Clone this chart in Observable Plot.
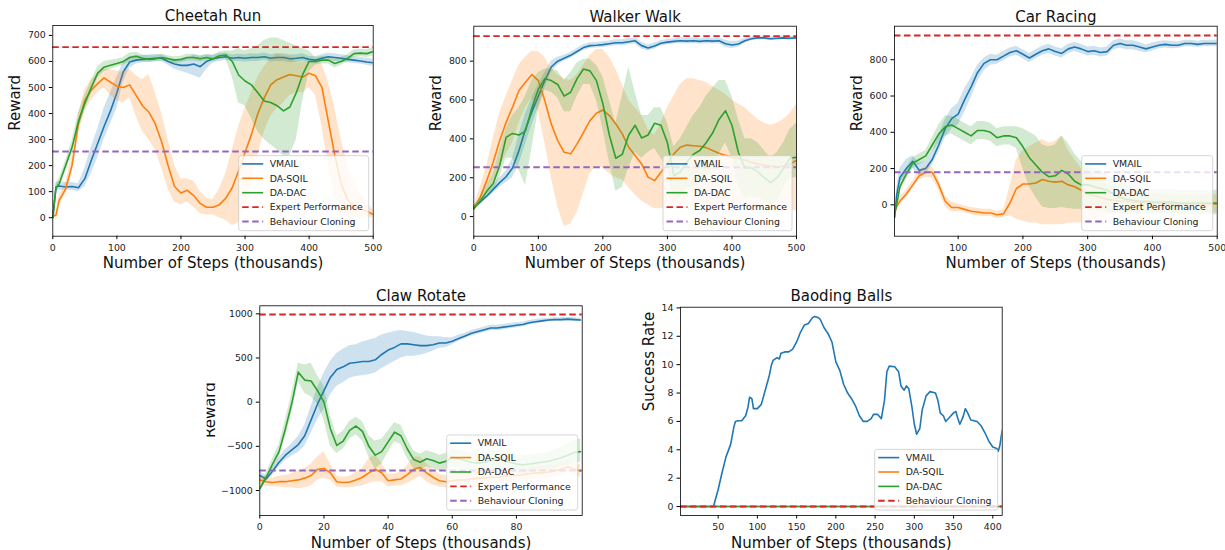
<!DOCTYPE html>
<html><head><meta charset="utf-8">
<script src="https://cdn.jsdelivr.net/npm/d3@7"></script>
<script src="https://cdn.jsdelivr.net/npm/@observablehq/plot@0.6"></script>
<style>
body{margin:0;background:#fff;}
#wrap{position:relative;width:1225px;height:550px;overflow:hidden;background:#fff;}
#wrap svg{position:absolute;max-width:none;}
</style></head><body><div id="wrap"></div>
<script>
// ---------------- DATA ----------------
const legendLabels = ["VMAIL","DA-SQIL","DA-DAC","Expert Performance","Behaviour Cloning"];
const xLabel = "Number of Steps (thousands)";

// Cheetah Run
const cheetahX = [0,5,10,20,30,40,50,60,70,80,90,100,110,120,130,140,150,160,170,180,190,200,210,220,230,240,250,260,270,280,290,300,310,320,330,340,350,360,370,380,390,400,410,420,430,440,450,460,470,480,490,500];
const cheetahVmail = [0,118,122,118,120,115,150,220,285,350,410,480,560,598,605,608,610,612,612,600,590,585,585,590,580,600,610,615,618,612,615,612,615,615,618,612,615,615,610,612,615,608,605,612,618,615,612,608,605,602,598,595];
const cheetahVmailBand = [[-5,5],[100,135],[105,140],[105,135],[105,135],[100,130],[120,190],[170,270],[230,340],[300,420],[360,480],[420,540],[520,595],[575,618],[590,622],[595,622],[598,625],[600,628],[600,626],[585,615],[570,608],[562,605],[555,612],[545,625],[535,620],[570,625],[595,625],[600,630],[605,632],[600,625],[600,628],[598,626],[600,630],[600,628],[605,632],[598,626],[600,630],[600,630],[595,625],[598,626],[600,630],[595,620],[590,618],[598,626],[605,632],[600,630],[598,626],[595,622],[592,618],[590,615],[585,612],[582,608]];
const cheetahSqil = [5,10,67,110,200,360,450,490,515,537,520,505,500,510,470,430,405,360,290,200,120,95,105,85,55,40,40,50,75,115,180,250,320,400,460,510,530,540,550,545,540,555,545,500,370,240,130,70,40,35,25,12];
const cheetahSqilBand = [[0,10],[0,20],[50,85],[90,135],[170,240],[320,400],[410,490],[450,530],[480,550],[500,570],[470,570],[450,560],[440,560],[460,570],[390,545],[330,530],[300,550],[260,480],[190,400],[110,300],[60,200],[50,150],[60,150],[40,140],[15,100],[10,75],[10,70],[0,110],[-10,170],[-30,260],[-20,350],[40,420],[130,480],[240,540],[330,580],[390,610],[420,630],[440,620],[470,620],[480,600],[480,595],[500,600],[470,600],[350,590],[200,520],[80,420],[20,300],[0,200],[-5,130],[0,90],[0,60],[0,30]];
const cheetahDac = [0,115,130,200,270,370,440,500,555,578,585,592,600,615,620,612,608,610,615,610,605,608,615,615,610,615,610,622,625,600,548,525,510,480,448,442,430,410,425,480,550,600,600,605,605,592,600,612,630,632,630,638];
const cheetahDacBand = [[-5,5],[100,130],[115,150],[180,220],[245,295],[340,400],[410,470],[475,525],[535,580],[560,600],[570,605],[578,608],[585,615],[600,632],[605,635],[598,626],[595,622],[598,622],[602,628],[598,622],[592,618],[595,620],[602,628],[602,628],[598,622],[602,628],[598,622],[608,636],[610,640],[540,640],[440,650],[430,640],[380,650],[330,660],[300,680],[280,690],[260,690],[235,680],[240,670],[300,660],[450,650],[560,640],[585,615],[590,620],[590,620],[575,608],[585,615],[598,626],[615,645],[618,646],[615,645],[622,654]];
const cheetahExpert = 655, cheetahBC = 254;
const cheetahXTicks = [0,100,200,300,400,500];
const cheetahYTicks = [0,100,200,300,400,500,600,700];

// Walker Walk
const walkerX = [0,10,20,30,40,50,60,70,80,90,100,110,120,130,140,150,160,170,180,190,200,210,220,230,240,250,260,270,280,290,300,310,320,330,340,350,360,370,380,390,400,410,420,430,440,450,460,470,480,490,500];
const walkerVmail = [50,75,105,140,175,205,250,340,450,540,620,700,770,800,815,830,850,870,880,882,885,890,895,895,900,905,880,868,878,892,898,902,905,903,905,902,905,903,905,890,883,888,905,915,920,920,915,918,920,918,920];
const walkerVmailBand = [[40,60],[65,85],[90,120],[120,160],[150,200],[175,235],[200,300],[270,420],[370,530],[470,610],[560,680],[660,740],[740,800],[780,820],[800,830],[815,845],[835,865],[855,885],[865,895],[868,896],[870,900],[876,904],[880,910],[880,910],[885,915],[890,920],[862,898],[852,884],[862,894],[878,906],[884,912],[888,916],[890,920],[888,918],[890,920],[888,916],[890,920],[888,918],[890,920],[872,908],[865,901],[872,904],[892,918],[905,925],[910,930],[910,930],[905,925],[908,928],[910,930],[908,928],[910,930]];
const walkerSqil = [40,100,185,280,390,485,563,649,692,731,700,597,477,391,331,323,374,434,494,532,549,520,477,426,357,314,271,203,185,228,271,323,357,368,365,362,355,340,326,315,305,300,290,280,270,265,260,255,260,270,290];
const walkerSqilBand = [[30,50],[70,150],[120,260],[180,400],[250,530],[320,620],[380,700],[480,780],[560,820],[610,850],[540,850],[380,820],[200,760],[50,730],[-50,710],[-40,700],[20,730],[120,780],[220,830],[260,860],[250,860],[220,820],[200,760],[190,680],[150,600],[110,560],[80,520],[60,450],[40,420],[40,480],[50,560],[60,620],[60,680],[50,710],[50,710],[50,700],[50,690],[50,670],[50,650],[50,630],[50,600],[50,580],[50,560],[50,530],[50,500],[40,480],[40,470],[30,480],[30,500],[30,530],[30,580]];
const walkerDac = [40,80,130,170,262,408,428,420,440,560,655,710,700,680,620,640,710,760,750,700,580,420,300,320,420,470,405,420,480,470,380,210,230,280,320,340,380,430,500,545,470,330,250,250,230,200,175,200,250,300,305];
const walkerDacBand = [[30,50],[60,100],[100,160],[130,220],[200,340],[300,450],[300,520],[240,560],[160,620],[350,700],[550,740],[650,760],[640,760],[610,750],[540,700],[540,740],[620,790],[680,810],[680,810],[600,780],[450,720],[280,600],[130,480],[150,620],[250,770],[330,640],[300,520],[330,520],[350,560],[300,560],[250,480],[80,360],[100,400],[150,460],[150,520],[170,560],[200,620],[250,660],[320,700],[380,700],[300,620],[150,500],[90,400],[100,400],[100,380],[80,340],[60,300],[80,330],[150,380],[200,450],[200,480]];
const walkerExpert = 929, walkerBC = 254;
const walkerXTicks = [0,100,200,300,400,500];
const walkerYTicks = [0,200,400,600,800];

// Car Racing
const carX = [2,5,10,20,30,40,50,60,70,80,90,100,110,120,130,140,150,160,170,180,190,200,210,220,230,240,250,260,270,280,290,300,310,320,330,340,350,360,370,380,390,400,410,420,430,440,450,460,470,480,490,500];
const carVmail = [-70,50,150,200,240,190,200,250,330,420,475,500,580,650,730,780,800,800,820,840,850,830,810,830,850,860,845,835,860,870,860,845,850,840,845,880,890,880,880,870,860,870,880,885,880,880,890,890,885,890,890,890];
const carVmailBand = [[-80,-60],[20,90],[120,200],[160,250],[200,270],[160,230],[170,240],[220,290],[290,380],[370,470],[420,530],[440,560],[510,640],[590,700],[680,770],[740,810],[770,830],[775,825],[795,845],[815,865],[825,875],[805,855],[785,835],[805,855],[825,875],[835,885],[820,870],[810,860],[835,885],[845,895],[835,885],[820,870],[825,875],[815,865],[820,870],[855,905],[865,915],[855,905],[855,905],[845,895],[838,882],[848,892],[860,900],[865,905],[860,900],[862,898],[872,908],[872,908],[868,902],[873,907],[873,907],[873,907]];
const carSqil = [-40,-10,20,60,110,160,180,180,110,20,-15,-15,-25,-35,-40,-45,-45,-55,-50,10,90,115,115,120,140,130,125,130,110,100,80,60,50,40,30,25,20,20,15,15,10,10,10,5,5,5,5,5,5,5,5,5];
const carSqilBand = [[-50,-30],[-25,5],[0,40],[40,80],[90,130],[140,190],[150,210],[150,210],[80,140],[-10,50],[-40,15],[-35,5],[-45,-5],[-55,-15],[-60,-20],[-65,-25],[-65,-25],[-75,-35],[-70,-30],[-60,100],[-80,250],[-90,300],[-100,320],[-100,340],[-110,360],[-110,340],[-110,350],[-110,380],[-100,300],[-100,250],[-100,200],[-90,200],[-80,150],[-70,130],[-60,110],[-50,100],[-40,80],[-40,80],[-40,70],[-40,70],[-40,60],[-40,60],[-40,60],[-45,55],[-45,55],[-45,55],[-45,55],[-45,55],[-45,55],[-45,55],[-45,55],[-45,55]];
const carDac = [-50,0,100,170,230,250,270,330,390,430,440,420,400,380,410,410,400,370,380,380,370,320,260,220,180,155,160,190,170,130,110,110,100,90,80,60,40,30,25,20,20,15,15,15,15,10,10,10,10,10,10,10];
const carDacBand = [[-60,-40],[-20,20],[70,130],[140,200],[200,260],[220,280],[240,300],[290,370],[340,440],[380,490],[390,490],[370,470],[350,450],[330,430],[360,460],[360,460],[350,450],[320,420],[330,430],[330,430],[310,430],[200,420],[100,400],[40,380],[-10,330],[-20,320],[-20,330],[-15,380],[-20,340],[-25,280],[-25,240],[-25,220],[-30,200],[-35,190],[-40,170],[-45,140],[-50,120],[-50,110],[-50,100],[-50,90],[-50,90],[-50,85],[-50,85],[-50,85],[-50,85],[-55,80],[-55,80],[-55,80],[-55,80],[-55,80],[-55,80],[-55,80]];
const carExpert = 934, carBC = 180;
const carXTicks = [100,200,300,400,500];
const carYTicks = [0,200,400,600,800];

// Claw Rotate
const clawX = [0,2,4,6,8,10,12,14,16,18,20,22,24,26,28,30,32,34,36,38,40,42,44,46,48,50,52,54,56,58,60,62,64,66,68,70,72,74,76,78,80,82,84,86,88,90,92,94,96,98,100];
const clawVmail = [-830,-870,-780,-680,-600,-540,-480,-380,-200,-20,130,280,370,400,440,450,460,460,480,540,590,620,660,660,650,640,640,650,670,670,690,720,750,780,800,820,840,840,850,860,870,880,900,910,920,930,935,935,940,935,930];
const clawVmailBand = [[-880,-780],[-900,-840],[-820,-740],[-730,-630],[-660,-540],[-610,-470],[-570,-390],[-500,-260],[-350,-50],[-200,160],[-80,330],[80,460],[180,550],[220,600],[270,640],[290,650],[300,680],[310,700],[330,720],[380,760],[420,780],[460,800],[500,810],[520,800],[520,790],[530,770],[550,750],[580,740],[610,740],[620,730],[650,730],[690,760],[720,780],[750,810],[770,830],[790,850],[810,870],[810,870],[820,880],[830,890],[840,900],[855,905],[875,925],[885,935],[900,945],[910,950],[915,955],[915,955],[920,960],[915,955],[910,950]];
const clawSqil = [-880,-900,-910,-900,-900,-890,-880,-860,-830,-760,-750,-800,-900,-910,-905,-880,-850,-800,-760,-800,-890,-880,-870,-820,-760,-740,-800,-850,-890,-900,-890,-880,-880,-870,-860,-860,-850,-850,-840,-830,-830,-820,-810,-800,-800,-790,-780,-760,-730,-760,-780];
const clawSqilBand = [[-930,-830],[-950,-850],[-960,-860],[-960,-840],[-970,-830],[-970,-810],[-980,-780],[-970,-750],[-950,-700],[-880,-620],[-860,-560],[-880,-700],[-960,-840],[-970,-850],[-970,-840],[-960,-800],[-950,-750],[-920,-640],[-900,-600],[-900,-690],[-960,-820],[-950,-810],[-950,-790],[-920,-720],[-880,-620],[-840,-620],[-900,-700],[-940,-760],[-960,-820],[-970,-830],[-960,-820],[-950,-810],[-950,-810],[-940,-800],[-930,-790],[-930,-790],[-920,-780],[-920,-780],[-910,-770],[-900,-760],[-900,-760],[-890,-750],[-880,-740],[-870,-730],[-870,-730],[-860,-720],[-850,-710],[-830,-690],[-800,-660],[-830,-690],[-850,-710]];
const clawDac = [-980,-850,-700,-560,-300,-10,340,250,240,130,0,-300,-490,-440,-320,-270,-330,-500,-600,-560,-450,-340,-380,-530,-650,-680,-640,-660,-690,-670,-630,-640,-660,-680,-690,-680,-660,-650,-660,-680,-700,-710,-700,-690,-680,-670,-650,-630,-600,-570,-560];
const clawDacBand = [[-1000,-960],[-900,-800],[-760,-640],[-640,-480],[-400,-200],[-120,100],[230,440],[100,420],[60,440],[-20,300],[-200,180],[-500,-150],[-580,-380],[-530,-330],[-420,-220],[-370,-170],[-440,-220],[-620,-380],[-760,-440],[-700,-420],[-570,-330],[-450,-230],[-480,-260],[-640,-420],[-750,-550],[-770,-590],[-730,-550],[-750,-570],[-780,-600],[-760,-580],[-730,-530],[-740,-540],[-760,-560],[-780,-580],[-790,-590],[-780,-580],[-760,-560],[-750,-550],[-760,-560],[-780,-580],[-800,-600],[-810,-610],[-800,-600],[-790,-590],[-780,-580],[-770,-570],[-750,-540],[-730,-510],[-710,-470],[-690,-430],[-680,-420]];
const clawExpert = 992, clawBC = -774;
const clawXTicks = [0,20,40,60,80];
const clawYTicks = [-1000,-500,0,500,1000];

// Baoding Balls
const baodingX = [2,44,45,48,50,55,60,66,70,72,75,80,85,88,90,93,95,100,105,110,115,118,120,125,128,130,135,140,145,150,155,160,165,170,173,178,180,185,190,195,200,205,210,215,220,225,230,235,240,245,248,253,258,262,265,268,275,280,283,287,290,293,297,300,303,307,310,315,320,327,330,333,337,340,345,350,353,355,358,362,365,368,372,380,385,390,395,400,405,407,409,412];
const baodingVmail = [0,0,0.2,0.8,1.2,2.4,3.5,4.4,5.6,6.0,6.05,6.05,6.4,7.0,7.7,7.6,6.9,6.9,7.2,8.2,9.2,10.0,10.3,10.5,10.4,10.8,10.9,10.9,11.1,11.6,12.3,12.8,12.9,13.3,13.4,13.3,13.2,12.6,12.2,11.6,10.2,9.6,8.6,8.0,7.6,7.1,6.4,6.0,6.0,6.2,6.5,6.5,6.2,7.5,9.5,9.9,9.85,9.5,8.5,8.2,8.5,8.3,7.0,5.8,5.1,5.5,6.8,7.8,8.1,8.0,7.5,6.6,6.4,6.0,6.3,6.6,6.7,6.3,5.8,6.3,6.9,6.6,6.1,6.0,5.7,5.2,4.6,4.2,4.1,3.9,4.3,5.4];
const baodingOtherX = [2,412];
const baodingSqil = [0,0];
const baodingDac = [0,0];
const baodingBC = 0;
const baodingXTicks = [50,100,150,200,250,300,350,400];
const baodingYTicks = [0,2,4,6,8,10,12,14];

// ---------------- DRAWING ----------------
const FONT = "DejaVu Sans";
const C = {vmail:"#1f77b4", sqil:"#ff7f0e", dac:"#2ca02c", expert:"#d62728", bc:"#9467bd"};
const DASH = "6.5,3.5";

const legend5 = [
  {label:legendLabels[0], color:C.vmail},
  {label:legendLabels[1], color:C.sqil},
  {label:legendLabels[2], color:C.dac},
  {label:legendLabels[3], color:C.expert, dash:true},
  {label:legendLabels[4], color:C.bc, dash:true}
];
const legend4 = [
  {label:legendLabels[0], color:C.vmail},
  {label:legendLabels[1], color:C.sqil},
  {label:legendLabels[2], color:C.dac},
  {label:legendLabels[4], color:C.expert, dash:true}
];

const panels = [
  {left:0, top:0, width:400, height:275, ml:52.3, mr:27.3, mt:25, mb:39.3,
   xDomain:[0,500], yDomain:[-71,738], xTicks:cheetahXTicks, yTicks:cheetahYTicks,
   title:"Cheetah Run", titleDy:-4.3, yLabel:"Reward", yLabelDx:-32.8,
   series:[{x:cheetahX,y:cheetahVmail,band:cheetahVmailBand,color:C.vmail},
           {x:cheetahX,y:cheetahSqil,band:cheetahSqilBand,color:C.sqil},
           {x:cheetahX,y:cheetahDac,band:cheetahDacBand,color:C.dac}],
   rules:[{value:cheetahExpert,color:C.expert},{value:cheetahBC,color:C.bc}],
   legend:legend5, legendWidth:130},
  {left:410, top:0, width:400, height:275, ml:63.3, mr:14, mt:25.7, mb:39.3,
   xDomain:[0,500], yDomain:[-101,980], xTicks:walkerXTicks, yTicks:walkerYTicks,
   title:"Walker Walk", titleDy:-4.7, yLabel:"Reward", yLabelDx:-32.5,
   series:[{x:walkerX,y:walkerVmail,band:walkerVmailBand,color:C.vmail},
           {x:walkerX,y:walkerSqil,band:walkerSqilBand,color:C.sqil},
           {x:walkerX,y:walkerDac,band:walkerDacBand,color:C.dac}],
   rules:[{value:walkerExpert,color:C.expert},{value:walkerBC,color:C.bc}],
   legend:legend5, legendWidth:129},
  {left:820, top:0, width:405, height:275, ml:74, mr:8.3, mt:25.7, mb:39.3,
   xDomain:[1.7,500], yDomain:[-173,985], xTicks:carXTicks, yTicks:carYTicks,
   title:"Car Racing", titleDy:-4.2, yLabel:"Reward", yLabelDx:-32.5,
   series:[{x:carX,y:carVmail,band:carVmailBand,color:C.vmail},
           {x:carX,y:carSqil,band:carSqilBand,color:C.sqil},
           {x:carX,y:carDac,band:carDacBand,color:C.dac}],
   rules:[{value:carExpert,color:C.expert},{value:carBC,color:C.bc}],
   legend:legend5, legendWidth:131},
  {left:200, top:280, width:400, height:270, ml:59.3, mr:18.3, mt:25.3, mb:35,
   xDomain:[0,100.5], yDomain:[-1283,1091], xTicks:clawXTicks, yTicks:clawYTicks,
   title:"Claw Rotate", titleDy:-4.6, yLabel:"Reward", clippedLabel:true,
   series:[{x:clawX,y:clawVmail,band:clawVmailBand,color:C.vmail},
           {x:clawX,y:clawSqil,band:clawSqilBand,color:C.sqil},
           {x:clawX,y:clawDac,band:clawDacBand,color:C.dac}],
   rules:[{value:clawExpert,color:C.expert},{value:clawBC,color:C.bc}],
   legend:legend5, legendWidth:131},
  {left:620, top:280, width:400, height:270, ml:60, mr:18.3, mt:26.7, mb:35,
   xDomain:[2,412], yDomain:[-0.63,14.05], xTicks:baodingXTicks, yTicks:baodingYTicks,
   title:"Baoding Balls", titleDy:-6.5, yLabel:"Success Rate", yLabelDx:-26.5,
   series:[{x:baodingX,y:baodingVmail,color:C.vmail},
           {x:baodingOtherX,y:baodingSqil,color:C.sqil},
           {x:baodingOtherX,y:baodingDac,color:C.dac}],
   rules:[{value:baodingBC,color:C.expert}],
   legend:legend4, legendWidth:123}
];

const wrap = document.getElementById("wrap");
const fmt = d3.format("d");

panels.forEach((p, pi) => {
  const marks = [];
  p.series.forEach(s => {
    const rows = s.x.map((x, i) => ({x, y: s.y[i], lo: s.band ? s.band[i][0] : 0, hi: s.band ? s.band[i][1] : 0}));
    if (s.band) marks.push(Plot.areaY(rows, {x:"x", y1:"lo", y2:"hi", fill:s.color, fillOpacity:0.22, clip:true}));
    marks.push(Plot.line(rows, {x:"x", y:"y", stroke:s.color, strokeWidth:1.6, clip:true}));
  });
  p.rules.forEach(r => marks.push(Plot.ruleY([r.value], {stroke:r.color, strokeWidth:1.9, strokeDasharray:DASH})));
  marks.push(Plot.frame({stroke:"black", strokeWidth:0.8}));
  marks.push(Plot.axisX({ticks:p.xTicks, tickFormat:fmt, tickSize:3.5, tickPadding:4.7, label:null, stroke:"black", fill:"#222"}));
  marks.push(Plot.axisY({ticks:p.yTicks, tickFormat:fmt, tickSize:3.5, tickPadding:3.5, label:null, stroke:"black", fill:"#222"}));
  marks.push(Plot.text([p.title], {text:d=>d, frameAnchor:"top", dy:p.titleDy, lineAnchor:"bottom", fontSize:15, fill:"#111"}));
  marks.push(Plot.text([xLabel], {text:d=>d, frameAnchor:"bottom", dy:32, lineAnchor:"bottom", fontSize:15, fill:"#111"}));
  if (!p.clippedLabel) {
    marks.push(Plot.text([p.yLabel], {text:d=>d, frameAnchor:"left", dx:p.yLabelDx, rotate:-90, lineAnchor:"bottom", fontSize:15, fill:"#111"}));
  }
  const svg = Plot.plot({
    width:p.width, height:p.height,
    marginLeft:p.ml, marginRight:p.mr, marginTop:p.mt, marginBottom:p.mb,
    x:{domain:p.xDomain, axis:null},
    y:{domain:p.yDomain, axis:null},
    style:{fontFamily:FONT, fontSize:"9.4px", color:"#222", background:"white", maxWidth:"none"},
    marks
  });
  svg.style.left = p.left + "px";
  svg.style.top = p.top + "px";
  wrap.appendChild(svg);
  const sel = d3.select(svg);

  if (p.clippedLabel) {
    const id = "clip" + pi;
    sel.append("defs").append("clipPath").attr("id", id)
      .append("rect").attr("x", 6.6).attr("y", 0).attr("width", 60).attr("height", p.height);
    const cy = (p.mt + (p.height - p.mb)) / 2;
    sel.append("g").attr("clip-path", `url(#${id})`)
      .append("text").attr("transform", `translate(15.2,${cy}) rotate(-90)`)
      .attr("text-anchor", "middle").attr("font-size", 15).attr("fill", "#111")
      .attr("font-family", FONT).text(p.yLabel);
  }

  // legend
  const right = p.width - p.mr, bottom = p.height - p.mb;
  const h = 3 + 14.4 * p.legend.length;
  const lx = right - 4 - p.legendWidth, ly = bottom - 5 - h;
  const g = sel.append("g").attr("font-family", FONT).attr("font-size", 9.4).attr("text-anchor", "start");
  g.append("rect").attr("x", lx).attr("y", ly).attr("width", p.legendWidth).attr("height", h)
    .attr("rx", 2.5).attr("fill", "white").attr("fill-opacity", 0.8)
    .attr("stroke", "#cccccc").attr("stroke-width", 0.8);
  p.legend.forEach((e, i) => {
    const cy = ly + 8.2 + 14.4 * i;
    g.append("line").attr("x1", lx + 3.5).attr("x2", lx + 24.5).attr("y1", cy).attr("y2", cy)
      .attr("stroke", e.color).attr("stroke-width", e.dash ? 1.9 : 1.6)
      .attr("stroke-dasharray", e.dash ? DASH : null);
    g.append("text").attr("x", lx + 31).attr("y", cy).attr("dy", "0.35em")
      .attr("text-anchor", "start").attr("fill", "#222").text(e.label);
  });
});
</script>
</body></html>
